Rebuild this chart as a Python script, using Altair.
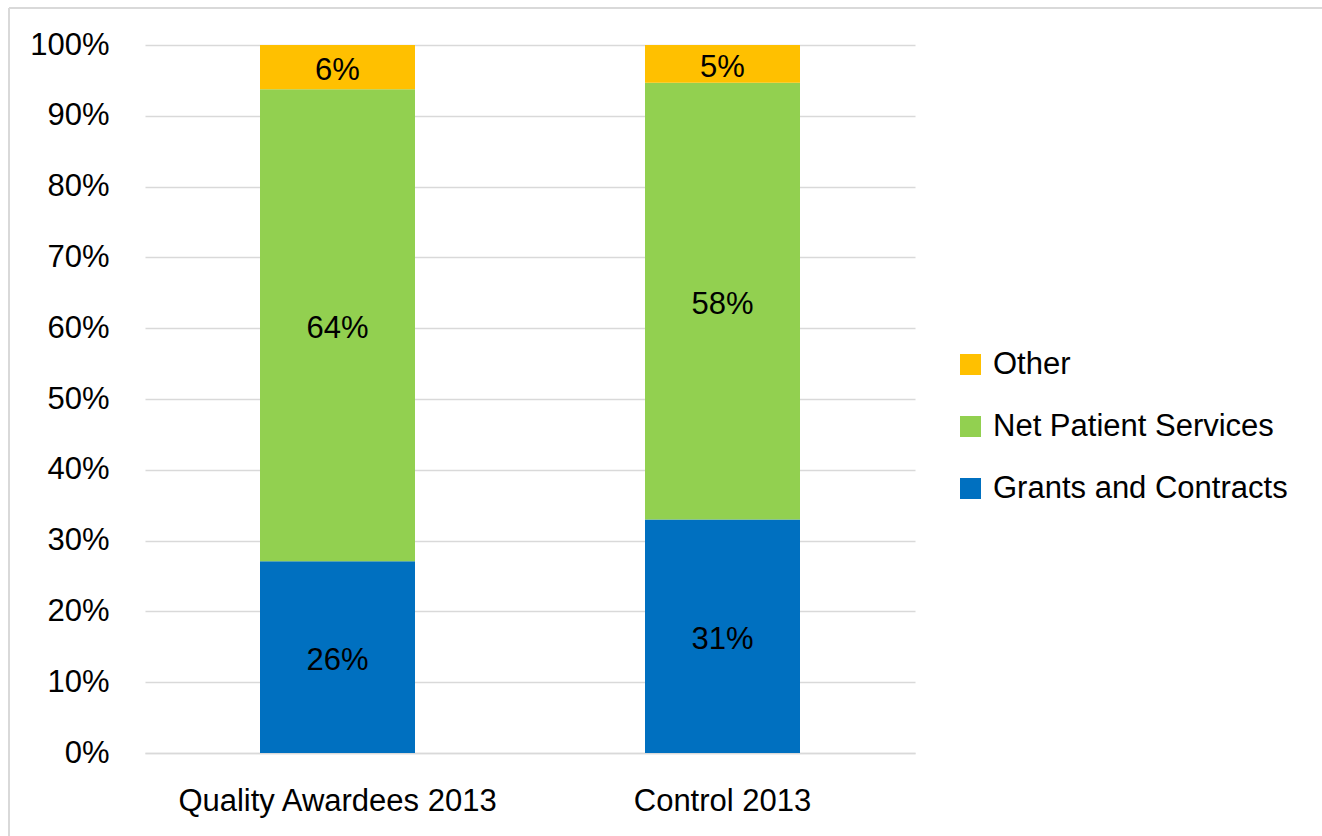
import altair as alt
import pandas as pd

categories = ["Quality Awardees 2013", "Control 2013"]
series = ["Grants and Contracts", "Net Patient Services", "Other"]
grants = [26, 31]
net_patient = [64, 58]
other = [6, 5]
colors = ["#0070C0", "#92D050", "#FFC000"]

rows = []
for i, c in enumerate(categories):
    vals = [grants[i], net_patient[i], other[i]]
    tot = sum(vals)
    cum = 0
    for k, (s, v) in enumerate(zip(series, vals)):
        mid = (cum + v / 2) / tot
        cum += v
        rows.append({"category": c, "series": s, "value": v, "rank": k,
                     "mid": mid, "label": f"{v}%"})
df = pd.DataFrame(rows)

FONT = "Liberation Sans"
FS = 31
legend_order = ["Other", "Net Patient Services", "Grants and Contracts"]
color_scale = alt.Scale(domain=legend_order, range=[colors[2], colors[1], colors[0]])

x_enc = alt.X("category:N", sort=categories, title=None,
              scale=alt.Scale(paddingInner=0, paddingOuter=0),
              axis=alt.Axis(labelAngle=0, labelFontSize=FS, labelPadding=33, ticks=False,
                            domainColor="#D9D9D9", domainWidth=1.5, labelColor="#000000",
                            labelFont=FONT, labelLimit=500))

bars = alt.Chart(df).mark_bar(size=155).encode(
    x=x_enc,
    y=alt.Y("value:Q", stack="normalize", title=None,
            scale=alt.Scale(domain=[0, 1]),
            axis=alt.Axis(format=".0%", values=[i / 10 for i in range(11)],
                          labelFontSize=FS, labelPadding=36, ticks=False, domain=False,
                          grid=True, gridColor="#D9D9D9", gridWidth=1.5,
                          labelColor="#000000", labelFont=FONT)),
    color=alt.Color("series:N", scale=color_scale, sort=legend_order,
                    legend=alt.Legend(title=None, orient="none", legendX=810, legendY=304,
                                      symbolType="square", symbolSize=440,
                                      symbolStrokeWidth=0, symbolOpacity=1,
                                      labelFontSize=FS, labelFont=FONT,
                                      labelColor="#000000", rowPadding=30,
                                      labelOffset=7, labelLimit=400)),
    order=alt.Order("rank:Q", sort="ascending"),
)

texts = alt.Chart(df).mark_text(fontSize=FS, font=FONT, color="#000000", dy=4).encode(
    x=alt.X("category:N", sort=categories),
    y=alt.Y("mid:Q"),
    text="label:N",
)

border = alt.Chart(pd.DataFrame({"k": [0]})).mark_rule(color="#D9D9D9", strokeWidth=2).encode(
    x=alt.value(-136), x2=alt.value(1200), y=alt.value(-37))
border_left = alt.Chart(pd.DataFrame({"k": [0]})).mark_rule(color="#D9D9D9", strokeWidth=2).encode(
    x=alt.value(-136), y=alt.value(-37), y2=alt.value(800))

chart = alt.layer(bars, texts, border, border_left).properties(
    width=770, height=708,
    autosize=alt.AutoSizeParams(type="none"),
    padding={"left": 145, "top": 45, "right": 407, "bottom": 83},
    background="#FFFFFF",
).configure_view(stroke=None)

chart.save("out.html", embed_options={"renderer": "svg", "actions": False})
